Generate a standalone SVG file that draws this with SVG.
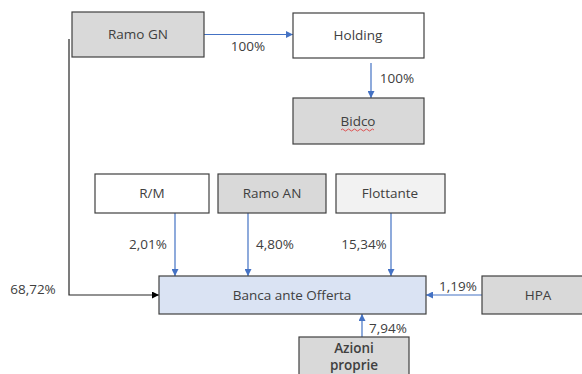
<svg xmlns="http://www.w3.org/2000/svg" width="582" height="374" viewBox="0 0 582 374">
<style>
  .box { stroke: #404040; stroke-width: 1.2; }
  .g { fill: #d9d9d9; }
  .w { fill: #ffffff; }
  .lt { fill: #f2f2f2; }
  .bl { fill: #dae3f3; }
  text { font-family: "Open Sans", "Noto Sans", sans-serif; font-size: 13.5px; fill: #404040; }
  .c { text-anchor: middle; }
  .b { font-weight: 600; }
  .blue { stroke: #4472c4; stroke-width: 1.2; fill: none; }
  .blk { stroke: #262626; stroke-width: 1.2; fill: none; }
</style>
<defs>
  <marker id="ab" viewBox="0 0 10 10" refX="10" refY="5" markerWidth="7" markerHeight="7" orient="auto" markerUnits="userSpaceOnUse">
    <path d="M0,0 L10,5 L0,10 z" fill="#4472c4"/>
  </marker>
  <marker id="ak" viewBox="0 0 10 10" refX="10" refY="5" markerWidth="7" markerHeight="7" orient="auto" markerUnits="userSpaceOnUse">
    <path d="M0,0 L10,5 L0,10 z" fill="#000000"/>
  </marker>
</defs>
<rect width="582" height="374" fill="#ffffff"/>
<g id="connectors">
  <line class="blue" x1="204" y1="34.5" x2="293" y2="34.5" marker-end="url(#ab)"/>
  <line class="blue" x1="371" y1="63" x2="371" y2="98" marker-end="url(#ab)"/>
  <polyline class="blk" points="69,39 69,295 159,295" marker-end="url(#ak)"/>
  <line class="blue" x1="175" y1="213" x2="175" y2="276" marker-end="url(#ab)"/>
  <line class="blue" x1="248" y1="213" x2="248" y2="276" marker-end="url(#ab)"/>
  <line class="blue" x1="391" y1="213" x2="391" y2="276" marker-end="url(#ab)"/>
  <line class="blue" x1="482" y1="295" x2="426" y2="295" marker-end="url(#ab)"/>
  <line class="blue" x1="362" y1="337" x2="362" y2="314" marker-end="url(#ab)"/>
  <text class="c" x="248" y="51">100%</text>
  <text class="c" x="397" y="83">100%</text>
  <text class="c" x="33" y="294">68,72%</text>
  <text class="c" x="148" y="249">2,01%</text>
  <text class="c" x="275" y="249">4,80%</text>
  <text class="c" x="364" y="249">15,34%</text>
  <text class="c" x="458" y="291">1,19%</text>
  <text class="c" x="388" y="333">7,94%</text>
</g>
<g id="ramo-gn"><rect class="box g" x="72" y="12" width="132" height="45"/><text class="c" x="138" y="39">Ramo GN</text></g>
<g id="holding"><rect class="box w" x="293" y="13" width="131" height="45"/><text class="c" x="358" y="40">Holding</text></g>
<g id="bidco"><rect class="box g" x="293" y="98" width="131" height="46"/><text class="c" x="358" y="126">Bidco</text>
  <path d="M341,130 q1.5,-2 3,0 t3,0 t3,0 t3,0 t3,0 t3,0 t3,0 t3,0 t3,0 t3,0 t3,0" fill="none" stroke="#e03030" stroke-width="0.8"/></g>
<g id="rm"><rect class="box w" x="95" y="174" width="114" height="39"/><text class="c" x="152" y="198">R/M</text></g>
<g id="ramo-an"><rect class="box g" x="218" y="174" width="108" height="39"/><text class="c" x="272" y="198">Ramo AN</text></g>
<g id="flottante"><rect class="box lt" x="336" y="174" width="109" height="39"/><text class="c" x="390" y="198">Flottante</text></g>
<g id="banca"><rect class="box bl" x="159" y="276" width="267" height="38"/><text class="c" x="292" y="300">Banca ante Offerta</text></g>
<g id="hpa"><rect class="box g" x="482" y="276" width="110" height="38"/><text class="c" x="538" y="300">HPA</text></g>
<g id="azioni"><rect class="box g" x="299" y="337" width="110" height="45"/><text class="c b" x="354" y="353">Azioni</text><text class="c b" x="354" y="370">proprie</text></g>
</svg>
